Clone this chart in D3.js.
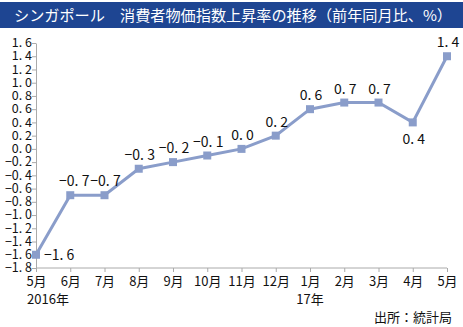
<!DOCTYPE html>
<html><head><meta charset="utf-8">
<script src="https://cdn.jsdelivr.net/npm/d3@7"></script>
<style>
body{margin:0;background:#fff;}
text{font-family:"Noto Sans CJK JP","Noto Sans",sans-serif;}
</style></head>
<body><svg id="c" width="463" height="327"></svg>
<script>
const months = ["5月","6月","7月","8月","9月","10月","11月","12月","1月","2月","3月","4月","5月"];
const values = [-1.6,-0.7,-0.7,-0.3,-0.2,-0.1,0.0,0.2,0.6,0.7,0.7,0.4,1.4];
const yTicks = [1.6,1.4,1.2,1.0,0.8,0.6,0.4,0.2,0.0,-0.2,-0.4,-0.6,-0.8,-1.0,-1.2,-1.4,-1.6,-1.8];
const yearLabels = [{i:0,t:"2016年"},{i:8,t:"17年"}];
const title = "シンガポール　消費者物価指数上昇率の推移（前年同月比、%）";
const source = "出所：統計局";

const svg = d3.select("#c");
const fmt = v => d3.format(".1f")(v).replace("-","−").replace(".",". ");

svg.append("rect").attr("x",0).attr("y",2).attr("width",463).attr("height",26).attr("fill","#1e4592");
svg.append("text").attr("x",14).attr("y",21).attr("fill","#fff").attr("font-size",15)
  .attr("textLength",438).attr("lengthAdjust","spacingAndGlyphs").text(title);

const x = d3.scalePoint().domain(d3.range(months.length)).range([36,447]);
const y = d3.scaleLinear().domain([-1.8,1.6]).range([268,43]);

const gy = svg.append("g").attr("transform","translate(36,0)")
  .call(d3.axisLeft(y).tickValues(yTicks).tickSize(4).tickSizeOuter(0).tickFormat(fmt));
gy.selectAll("path,line").attr("stroke","#aaa");
gy.selectAll("text").attr("font-size",12.5).attr("fill","#111").attr("x",-4).attr("dy","0.3em");

const gx = svg.append("g").attr("transform","translate(0,268)")
  .call(d3.axisBottom(x).tickSize(4).tickSizeOuter(0).tickFormat(i=>months[i]));
gx.selectAll("path,line").attr("stroke","#aaa");
gx.select(".domain").attr("d","M36,0H447");
gx.selectAll("text").attr("font-size",13).attr("fill","#111").attr("y",9);

svg.selectAll(".yr").data(yearLabels).enter().append("text")
  .attr("x",d=>x(d.i)+ (d.i===0?12:0)).attr("y",304).attr("text-anchor","middle")
  .attr("font-size",13).attr("fill","#111").text(d=>d.t);

svg.append("text").attr("x",452).attr("y",322).attr("text-anchor","end")
  .attr("font-size",13).attr("fill","#111").text(source);

const color = "#8a9dca";
svg.append("path").datum(values)
  .attr("d",d3.line().x((d,i)=>x(i)).y(d=>y(d)))
  .attr("fill","none").attr("stroke",color).attr("stroke-width",3);
svg.selectAll(".m").data(values).enter().append("rect")
  .attr("x",(d,i)=>x(i)-4).attr("y",d=>y(d)-4).attr("width",8).attr("height",8).attr("fill",color);

svg.selectAll(".lbl").data(values).enter().append("text")
  .attr("font-size",14).attr("fill","#111")
  .attr("text-anchor",(d,i)=>i===0?"start":"middle")
  .attr("x",(d,i)=>i===0?x(i)+8:(i===1?x(i)+4:x(i)+1))
  .attr("y",(d,i)=>i===0?y(d)+5:(i===11?y(d)+22:y(d)-9))
  .text(d=>fmt(d));
</script></body></html>
